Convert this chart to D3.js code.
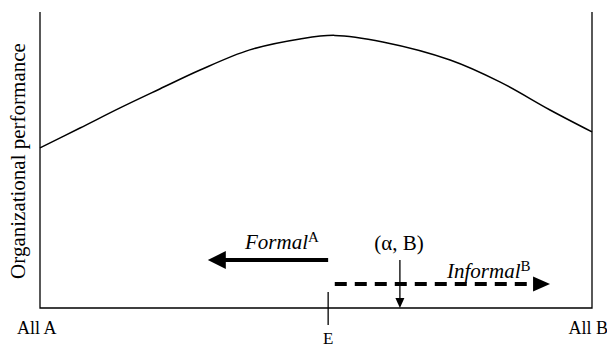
<!DOCTYPE html>
<html>
<head>
<meta charset="utf-8">
<script src="https://cdn.jsdelivr.net/npm/d3@7"></script>
<style>
  body { margin: 0; background: #fff; }
  svg { display: block; font-family: "Liberation Serif", "Times New Roman", serif; }
</style>
</head>
<body>
<div id="chart"></div>
<script>
// mix of A/B along x (0 = all A, 1 = all B), performance on y (0..100)
var mix = [0, 0.0725, 0.145, 0.217, 0.29, 0.38, 0.471, 0.534, 0.621, 0.743, 0.833, 0.924, 1];
var performance = [54.1, 60.8, 67.6, 74.0, 80.4, 87.2, 90.9, 92.1, 89.9, 83.8, 76.4, 66.9, 59.5];
var endLabels = ["All A", "All B"];
var pointE = 0.522, pointAlpha = 0.652;
var formalEnd = 0.304, informalStart = 0.534, informalEnd = 0.924;
var formalLevel = 16.2, informalLevel = 8.1;

var width = 607, height = 348;
var margin = {left: 40, right: 15, top: 12, bottom: 40};

var x = d3.scaleLinear().domain([0, 1]).range([margin.left, width - margin.right]);
var y = d3.scaleLinear().domain([0, 100]).range([height - margin.bottom, margin.top]);

var svg = d3.select("#chart").append("svg")
    .attr("width", width)
    .attr("height", height);

// arrow heads drawn as triangles pointing in the direction dx (+1 / -1) or down
function headH(tipX, cy, len, half, dir) {
  svg.append("path")
      .attr("d", "M" + tipX + "," + cy + "L" + (tipX - dir * len) + "," + (cy - half) +
                 "L" + (tipX - dir * len) + "," + (cy + half) + "Z")
      .attr("fill", "#000");
}

// frame: left, bottom, right
var y0 = y(0), y1 = y(100);
svg.append("path")
    .attr("d", "M" + x(0) + "," + y1 + "V" + y0 + "H" + x(1) + "V" + y1)
    .attr("fill", "none")
    .attr("stroke", "#000")
    .attr("stroke-width", 1.3);

var line = d3.line()
    .x(function(d, i) { return x(mix[i]); })
    .y(function(d) { return y(d); })
    .curve(d3.curveCatmullRom.alpha(0.5));

svg.append("path")
    .datum(performance)
    .attr("d", line)
    .attr("fill", "none")
    .attr("stroke", "#000")
    .attr("stroke-width", 1.5);

// tick at E
svg.append("line")
    .attr("x1", x(pointE)).attr("x2", x(pointE))
    .attr("y1", y0 - 16).attr("y2", y0 + 17)
    .attr("stroke", "#000").attr("stroke-width", 1.3);

// formal arrow (solid, to the left)
var fy = y(formalLevel);
svg.append("line")
    .attr("x1", x(pointE)).attr("x2", x(formalEnd) + 14)
    .attr("y1", fy).attr("y2", fy)
    .attr("stroke", "#000").attr("stroke-width", 4);
headH(x(formalEnd), fy, 18, 9, -1);

// informal arrow (dashed, to the right)
var iy = y(informalLevel);
svg.append("line")
    .attr("x1", x(informalStart)).attr("x2", x(informalEnd) - 14)
    .attr("y1", iy).attr("y2", iy)
    .attr("stroke", "#000").attr("stroke-width", 4)
    .attr("stroke-dasharray", "12,8");
headH(x(informalEnd), iy, 17, 7.5, 1);

// (alpha, B) pointer
var ax = x(pointAlpha);
svg.append("line")
    .attr("x1", ax).attr("x2", ax)
    .attr("y1", fy).attr("y2", y0 - 8)
    .attr("stroke", "#000").attr("stroke-width", 1.3);
svg.append("path")
    .attr("d", "M" + ax + "," + y0 + "L" + (ax - 4.5) + "," + (y0 - 10) + "L" + (ax + 4.5) + "," + (y0 - 10) + "Z")
    .attr("fill", "#000");

// labels
svg.append("text")
    .attr("x", 17).attr("y", y0 + 26)
    .attr("font-size", 18)
    .text(endLabels[0]);
svg.append("text")
    .attr("x", width + 1).attr("y", y0 + 26)
    .attr("text-anchor", "end")
    .attr("font-size", 18)
    .text(endLabels[1]);
svg.append("text")
    .attr("x", x(pointE)).attr("y", y0 + 36)
    .attr("text-anchor", "middle")
    .attr("font-size", 17)
    .text("E");

svg.append("text")
    .attr("x", ax - 1).attr("y", fy - 10)
    .attr("text-anchor", "middle")
    .attr("font-size", 21)
    .text("(\u03b1, B)");

var fl = svg.append("text")
    .attr("x", 245).attr("y", fy - 11)
    .attr("font-size", 21);
fl.append("tspan").attr("font-style", "italic").text("Formal");
fl.append("tspan").attr("font-size", 15).attr("dy", -7).text("A");

var il = svg.append("text")
    .attr("x", 447).attr("y", iy - 6)
    .attr("font-size", 21);
il.append("tspan").attr("font-style", "italic").text("Informal");
il.append("tspan").attr("font-size", 15).attr("dy", -7).text("B");

svg.append("text")
    .attr("transform", "translate(25," + ((y0 + y1) / 2 + 1) + ") rotate(-90)")
    .attr("text-anchor", "middle")
    .attr("font-size", 21)
    .text("Organizational performance");
</script>
</body>
</html>
